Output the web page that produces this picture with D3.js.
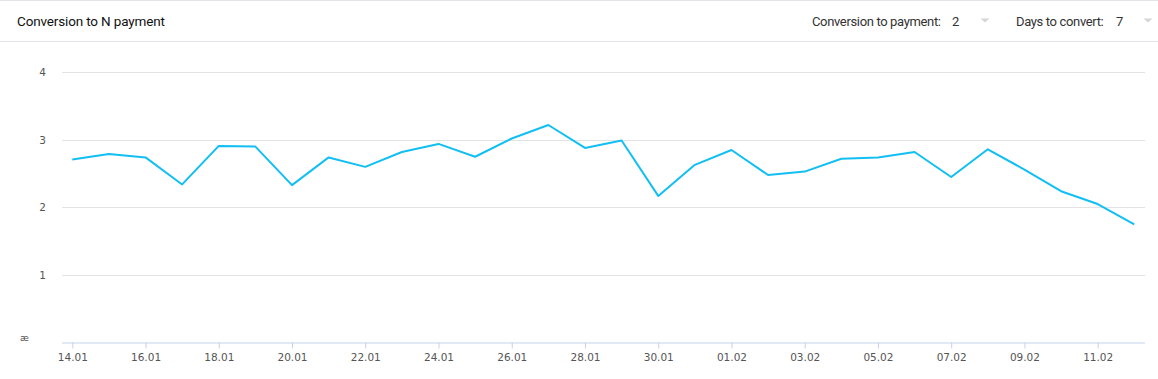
<!DOCTYPE html>
<html>
<head>
<meta charset="utf-8">
<script src="https://cdn.jsdelivr.net/npm/d3@7"></script>
<style>
  html, body { margin: 0; padding: 0; background: #fff; }
  svg { display: block; }
</style>
</head>
<body>
<div id="chart"></div>
<script>
// data
const dates = ["14.01","15.01","16.01","17.01","18.01","19.01","20.01","21.01","22.01","23.01",
  "24.01","25.01","26.01","27.01","28.01","29.01","30.01","31.01","01.02","02.02",
  "03.02","04.02","05.02","06.02","07.02","08.02","09.02","10.02","11.02","12.02"];
const conversion = [2.71,2.79,2.74,2.34,2.91,2.90,2.33,2.74,2.60,2.82,
  2.94,2.75,3.02,3.22,2.88,2.99,2.17,2.63,2.85,2.48,
  2.53,2.72,2.74,2.82,2.45,2.86,2.56,2.24,2.05,1.75];
const yTicks = [1, 2, 3, 4];
const title = "Conversion to N payment";
const filters = [
  { label: "Conversion to payment:", value: "2" },
  { label: "Days to convert:", value: "7" }
];

const width = 1158, height = 379;
const svg = d3.select("#chart").append("svg")
  .attr("width", width).attr("height", height);

// header
const header = svg.append("g");
header.append("line").attr("x1", 0).attr("x2", width).attr("y1", 0.5).attr("y2", 0.5)
  .attr("stroke", "#e4e4ea");
header.append("line").attr("x1", 0).attr("x2", width).attr("y1", 41.5).attr("y2", 41.5)
  .attr("stroke", "#e4e4ea");
header.append("text").attr("x", 17).attr("y", 26)
  .attr("font-family", "Roboto").attr("font-size", 13.5).attr("fill", "#111")
  .attr("letter-spacing", -0.15)
  .text(title);

const filterPos = [{ x: 812, vx: 952, tx: 985 }, { x: 1016, vx: 1116, tx: 1148 }];
filters.forEach((f, i) => {
  const p = filterPos[i];
  header.append("text").attr("x", p.x).attr("y", 26)
    .attr("font-family", "Roboto").attr("font-size", 13).attr("fill", "#333")
    .attr("letter-spacing", -0.35)
    .text(f.label);
  header.append("text").attr("x", p.vx).attr("y", 26)
    .attr("font-family", "Roboto").attr("font-size", 13).attr("fill", "#333")
    .text(f.value);
  header.append("path")
    .attr("d", `M${p.tx - 4.5},18.5 L${p.tx + 4.5},18.5 L${p.tx},22.5 Z`)
    .attr("fill", "#d5d5da");
});

// scales
const x = d3.scalePoint().domain(dates).range([72.3, 1134.3]);
const y = d3.scaleLinear().domain([0, 4]).range([342.5, 72.3]);
const plotLeft = 62, plotRight = 1145;

// gridlines
svg.append("g").selectAll("line").data(yTicks).join("line")
  .attr("x1", plotLeft).attr("x2", plotRight)
  .attr("y1", d => Math.round(y(d)) + 0.5).attr("y2", d => Math.round(y(d)) + 0.5)
  .attr("stroke", "#e3e3e6");

// y labels
svg.append("g").selectAll("text").data(yTicks).join("text")
  .attr("x", 46).attr("y", d => y(d) + 4)
  .attr("text-anchor", "end")
  .attr("font-family", "DejaVu Sans").attr("font-size", 10.5).attr("fill", "#555")
  .text(d => d);

// odd glyph at baseline
svg.append("text").attr("x", 20).attr("y", 341)
  .attr("font-family", "DejaVu Sans").attr("font-size", 9).attr("fill", "#555")
  .text("æ");

// x axis
const xAxis = svg.append("g")
  .attr("transform", `translate(0,${342.5})`)
  .call(d3.axisBottom(x)
    .tickValues(dates.filter((d, i) => i % 2 === 0))
    .tickSize(6).tickPadding(5));
xAxis.select(".domain").attr("d", `M${plotLeft},0.5H${plotRight}`).attr("stroke", "#c6d2ea");
xAxis.selectAll(".tick line").attr("stroke", "#c6d2ea");
xAxis.selectAll(".tick text")
  .attr("font-family", "DejaVu Sans").attr("font-size", 10.5).attr("fill", "#555");

// line
const line = d3.line().x((d, i) => x(dates[i])).y(d => y(d));
svg.append("path").datum(conversion)
  .attr("d", line)
  .attr("fill", "none")
  .attr("stroke", "#12bff2")
  .attr("stroke-width", 2)
  .attr("stroke-linejoin", "round");
</script>
</body>
</html>
